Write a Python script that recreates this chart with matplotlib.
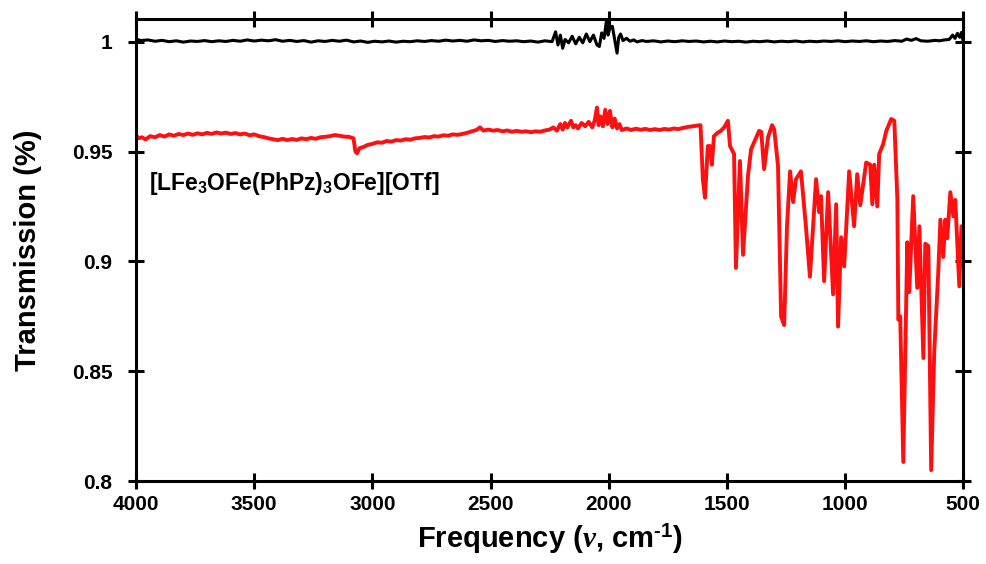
import numpy as np
import matplotlib.pyplot as plt

plt.rcParams['font.family'] = ['Liberation Sans', 'DejaVu Sans']
plt.rcParams['font.weight'] = 'bold'
plt.rcParams['mathtext.fontset'] = 'custom'
plt.rcParams['mathtext.rm'] = 'Liberation Sans:bold'
plt.rcParams['mathtext.bf'] = 'Liberation Sans:bold'
plt.rcParams['mathtext.it'] = 'Liberation Serif:italic:bold'

# background / reference scan (black)
black_x = [4000, 3980, 3950, 3920, 3890, 3860, 3830, 3800, 3770, 3740, 3710, 3680,
           3650, 3620, 3590, 3560, 3530, 3500, 3470, 3440, 3410, 3380, 3350, 3320,
           3290, 3260, 3230, 3200, 3170, 3140, 3110, 3080, 3050, 3020, 2990, 2960,
           2930, 2900, 2870, 2840, 2810, 2780, 2750, 2720, 2690, 2660, 2630, 2600,
           2570, 2540, 2510, 2480, 2450, 2420, 2390, 2360, 2330, 2300, 2270, 2240,
           2225, 2215, 2205, 2195, 2185, 2170, 2155, 2140, 2125, 2110, 2095, 2080,
           2065, 2050, 2040, 2030, 2020, 2010, 2003, 1995, 1985, 1975, 1965, 1958,
           1950, 1940, 1925, 1910, 1895, 1880, 1860, 1840, 1810, 1780, 1750, 1720,
           1690, 1660, 1630, 1600, 1570, 1540, 1510, 1480, 1450, 1420, 1390, 1360,
           1330, 1300, 1270, 1240, 1210, 1180, 1150, 1120, 1090, 1060, 1030, 1000,
           970, 940, 910, 880, 850, 820, 790, 760, 740, 720, 700, 680,
           650, 620, 600, 580, 560, 545, 535, 525, 515, 508, 503, 500]
black_y = [1.0012, 1.0005, 1.0008, 1.0002, 1.0006, 1.0000, 1.0004, 0.9998, 1.0003, 1.0001, 1.0005, 1.0000,
           1.0004, 1.0001, 1.0006, 1.0002, 1.0008, 1.0003, 1.0007, 1.0004, 1.0009, 1.0002, 1.0006, 1.0001,
           1.0005, 0.9998, 1.0004, 1.0001, 1.0006, 1.0002, 1.0007, 0.9999, 1.0003, 0.9997, 1.0002, 0.9999,
           1.0003, 0.9998, 1.0002, 1.0000, 1.0004, 1.0001, 1.0005, 1.0002, 1.0007, 1.0003, 1.0006, 1.0002,
           1.0008, 1.0004, 1.0006, 1.0001, 1.0005, 1.0002, 1.0004, 1.0000, 1.0003, 0.9998, 1.0004, 1.0000,
           1.0045, 0.9985, 1.0030, 0.9970, 1.0010, 0.9995, 1.0025, 0.9990, 1.0020, 0.9995, 1.0035, 1.0000,
           1.0030, 0.9985, 0.9978, 1.0040, 1.0015, 1.0095, 1.0030, 1.0065, 1.0070, 1.0010, 0.9948, 1.0020,
           1.0035, 1.0005, 1.0015, 1.0002, 1.0008, 0.9999, 1.0005, 1.0001, 1.0004, 0.9999, 1.0003, 1.0000,
           1.0004, 1.0001, 1.0003, 0.9999, 1.0002, 0.9999, 1.0003, 1.0000, 1.0002, 0.9998, 1.0002, 1.0000,
           1.0003, 0.9999, 1.0002, 1.0000, 1.0003, 0.9999, 1.0002, 1.0000, 1.0003, 1.0001, 1.0004, 1.0000,
           1.0003, 1.0001, 1.0004, 1.0000, 1.0003, 1.0001, 1.0005, 1.0002, 1.0012, 1.0006, 1.0014, 1.0004,
           1.0002, 1.0006, 1.0004, 1.0008, 1.0010, 1.0030, 1.0015, 1.0038, 1.0020, 1.0042, 1.0015, 0.9995]

# sample spectrum (red)
red_x = [4000, 3990, 3975, 3960, 3940, 3920, 3900, 3880, 3860, 3840, 3820, 3800,
         3780, 3760, 3740, 3720, 3700, 3680, 3660, 3640, 3620, 3600, 3580, 3560,
         3540, 3520, 3500, 3480, 3460, 3440, 3420, 3400, 3380, 3360, 3340, 3320,
         3300, 3280, 3260, 3240, 3220, 3200, 3180, 3160, 3140, 3120, 3100, 3080,
         3072, 3065, 3055, 3040, 3020, 3000, 2980, 2960, 2940, 2920, 2900, 2880,
         2860, 2840, 2820, 2800, 2780, 2760, 2740, 2720, 2700, 2680, 2660, 2640,
         2620, 2600, 2580, 2560, 2545, 2530, 2510, 2490, 2470, 2450, 2430, 2410,
         2390, 2370, 2350, 2330, 2310, 2290, 2270, 2250, 2235, 2220, 2205, 2195,
         2185, 2175, 2160, 2150, 2140, 2130, 2115, 2100, 2085, 2070, 2060, 2050,
         2043, 2035, 2025, 2015, 2005, 1995, 1985, 1975, 1965, 1955, 1945, 1925,
         1905, 1885, 1865, 1845, 1825, 1805, 1785, 1765, 1745, 1725, 1705, 1685,
         1665, 1645, 1625, 1612, 1602, 1593, 1581, 1572, 1564, 1555, 1540, 1526,
         1512, 1496, 1487, 1470, 1462, 1445, 1432, 1411, 1398, 1364, 1355, 1343,
         1326, 1309, 1300, 1284, 1271, 1258, 1246, 1233, 1220, 1208, 1187, 1166,
         1149, 1123, 1110, 1102, 1089, 1072, 1051, 1038, 1030, 1017, 1004, 983,
         962, 949, 936, 911, 894, 885, 877, 864, 856, 839, 826, 805,
         792, 779, 775, 767, 754, 737, 729, 712, 695, 686, 669, 661,
         648, 636, 623, 606, 597, 585, 576, 568, 555, 542, 534, 517,
         508, 500]
red_y = [0.9575, 0.9560, 0.9565, 0.9555, 0.9570, 0.9565, 0.9575, 0.9568, 0.9578, 0.9572, 0.9580, 0.9575,
         0.9582, 0.9576, 0.9583, 0.9578, 0.9585, 0.9580, 0.9587, 0.9582, 0.9586, 0.9580, 0.9584, 0.9578,
         0.9582, 0.9574, 0.9578, 0.9570, 0.9566, 0.9560, 0.9556, 0.9552, 0.9558, 0.9552, 0.9557, 0.9553,
         0.9560, 0.9556, 0.9562, 0.9558, 0.9565, 0.9567, 0.9570, 0.9575, 0.9572, 0.9568, 0.9567, 0.9560,
         0.9500, 0.9492, 0.9515, 0.9520, 0.9530, 0.9535, 0.9542, 0.9540, 0.9548, 0.9545, 0.9552, 0.9550,
         0.9556, 0.9554, 0.9560, 0.9562, 0.9566, 0.9564, 0.9570, 0.9568, 0.9574, 0.9572, 0.9578, 0.9576,
         0.9580, 0.9585, 0.9592, 0.9598, 0.9610, 0.9595, 0.9600, 0.9595, 0.9598, 0.9592, 0.9596, 0.9590,
         0.9594, 0.9590, 0.9592, 0.9588, 0.9592, 0.9590, 0.9596, 0.9600, 0.9610, 0.9595, 0.9625, 0.9600,
         0.9630, 0.9610, 0.9640, 0.9610, 0.9620, 0.9605, 0.9630, 0.9615, 0.9635, 0.9610, 0.9640, 0.9700,
         0.9620, 0.9660, 0.9615, 0.9690, 0.9625, 0.9685, 0.9610, 0.9650, 0.9605, 0.9625, 0.9598, 0.9605,
         0.9598, 0.9604, 0.9599, 0.9603, 0.9598, 0.9602, 0.9598, 0.9603, 0.9600, 0.9605, 0.9602, 0.9608,
         0.9612, 0.9615, 0.9618, 0.9620, 0.9374, 0.9290, 0.9525, 0.9525, 0.9440, 0.9570, 0.9585, 0.9594,
         0.9610, 0.9640, 0.9525, 0.9489, 0.8970, 0.9457, 0.9030, 0.9390, 0.9510, 0.9594, 0.9590, 0.9420,
         0.9566, 0.9620, 0.9600, 0.9434, 0.8749, 0.8710, 0.9160, 0.9410, 0.9270, 0.9374, 0.9410, 0.9160,
         0.8930, 0.9374, 0.9224, 0.9297, 0.8910, 0.9315, 0.8850, 0.9260, 0.8703, 0.9110, 0.8977, 0.9410,
         0.9160, 0.9397, 0.9256, 0.9450, 0.9440, 0.9260, 0.9440, 0.9250, 0.9489, 0.9534, 0.9594, 0.9648,
         0.9640, 0.9280, 0.8735, 0.8750, 0.8087, 0.9087, 0.8860, 0.9297, 0.8880, 0.9160, 0.8560, 0.9080,
         0.9070, 0.8050, 0.8590, 0.8950, 0.9190, 0.9020, 0.9190, 0.9105, 0.9315, 0.9205, 0.9280, 0.8886,
         0.9160, 0.9150]

fig = plt.figure(figsize=(9.86, 5.64), dpi=100)
ax = fig.add_axes([0.138, 0.147, 0.839, 0.82])

ax.plot(black_x, black_y, color='black', lw=2.2)
ax.plot(red_x, red_y, color='#ff1010', lw=2.8)

ax.set_xlim(4000, 500)
ax.set_ylim(0.8, 1.0105)
ax.set_xticks([4000, 3500, 3000, 2500, 2000, 1500, 1000, 500])
ax.set_yticks([0.8, 0.85, 0.9, 0.95, 1.0])
ax.set_yticklabels(['0.8', '0.85', '0.9', '0.95', '1'])

ax.tick_params(direction='inout', length=12, width=2.2, labelsize=15,
               top=True, right=True)
ax.tick_params(axis='x', pad=4)
ax.tick_params(axis='y', pad=11)
for s in ax.spines.values():
    s.set_linewidth(2.2)
for lab in ax.get_xticklabels() + ax.get_yticklabels():
    lab.set_fontweight('bold')

ax.set_xlabel(r'Frequency ($\nu$, cm$^{\text{-1}}$)', fontsize=21, fontweight='bold', labelpad=6)
ax.set_ylabel('Transmission (%)', fontsize=21, fontweight='bold')
ax.yaxis.set_label_coords(-0.114, 0.5)

ax.text(3945, 0.9325, r'[LFe$_\mathregular{3}$OFe(PhPz)$_\mathregular{3}$OFe][OTf]',
        fontsize=16.5, fontweight='bold', va='baseline', ha='left')

fig.savefig('out.png', dpi=100)
